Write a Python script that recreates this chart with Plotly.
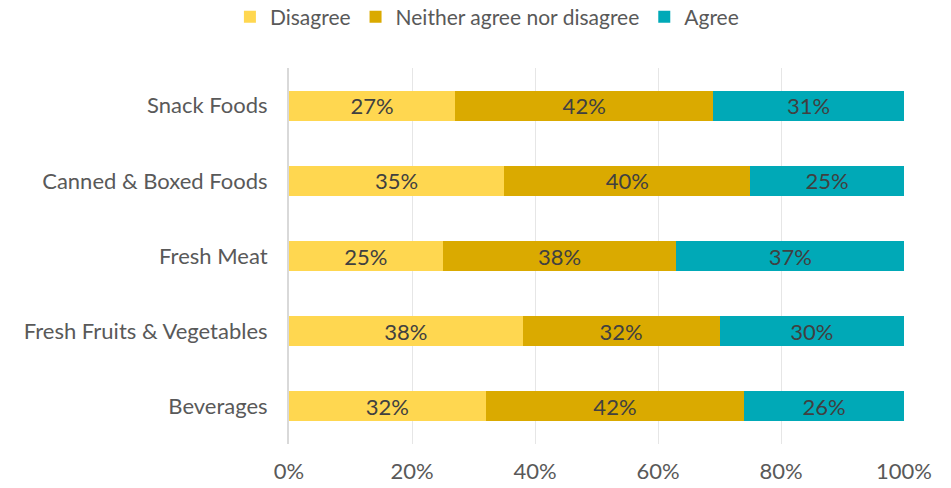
import plotly.graph_objects as go

categories = ["Snack Foods", "Canned & Boxed Foods", "Fresh Meat",
              "Fresh Fruits & Vegetables", "Beverages"]
disagree = [27, 35, 25, 38, 32]
neither = [42, 40, 38, 32, 42]
agree = [31, 25, 37, 30, 26]

series = [
    ("Disagree", disagree, "#FFD750"),
    ("Neither agree nor disagree", neither, "#DAAA00"),
    ("Agree", agree, "#00A9B7"),
]

FONT = "Lato, Calibri, Carlito, sans-serif"
FS = 22

fig = go.Figure()
for name, vals, color in series:
    fig.add_trace(go.Bar(
        y=categories, x=vals, name=name, orientation="h",
        marker=dict(color=color, line=dict(width=0)),
        text=[f"{v}%" for v in vals], textposition="inside",
        insidetextanchor="middle",
        textfont=dict(family=FONT, size=FS, color="#404040"),
        width=0.4,
    ))

fig.update_layout(
    width=951, height=488,
    margin=dict(l=289, r=47, t=68, b=44, autoexpand=False),
    barmode="stack",
    plot_bgcolor="white", paper_bgcolor="white",
    font=dict(family=FONT, size=FS, color="#595959"),
    uniformtext=dict(minsize=FS, mode="show"),
    legend=dict(orientation="h", x=0.512, xanchor="center", xref="container",
                y=0.965, yref="container", yanchor="middle",
                font=dict(size=21, color="#595959"),
                traceorder="normal", itemwidth=30,
                bgcolor="rgba(0,0,0,0)"),
    xaxis=dict(range=[0, 100], tickvals=[0, 20, 40, 60, 80, 100],
               ticktext=["0%", "20%", "40%", "60%", "80%", "100%"],
               showgrid=True, gridcolor="#E6E6E6", gridwidth=1,
               zeroline=False, showline=False, ticks="",
               ticklabelstandoff=12, automargin=False,
               tickfont=dict(size=FS, color="#595959")),
    yaxis=dict(autorange="reversed", showgrid=False, zeroline=False,
               showline=True, linecolor="#D9D9D9", linewidth=2,
               ticks="", ticklabelstandoff=15, automargin=False,
               tickfont=dict(size=FS, color="#595959")),
)

fig.write_html("out.html")
